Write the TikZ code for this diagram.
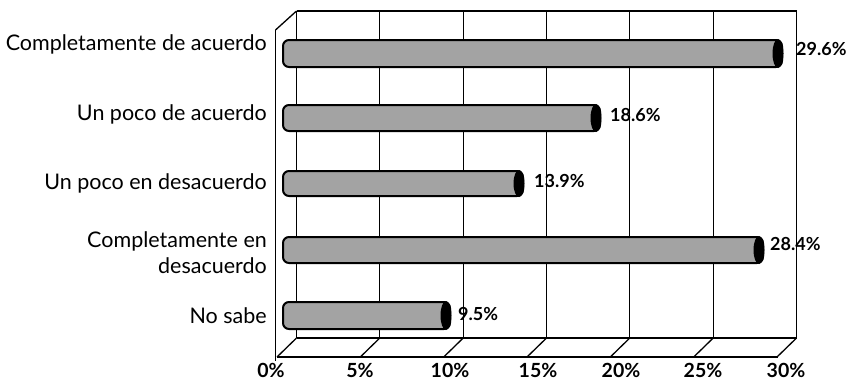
\documentclass[tikz,border=0pt]{standalone}
\usepackage{fontspec}
\setmainfont{Lato}
\begin{document}
\begin{tikzpicture}[x=1pt,y=-1pt,
  frame/.style={line width=1.3pt,black},
  grid/.style={line width=1.1pt,black},
  barbody/.style={draw=black,line width=2pt,fill=gray!72,rounded corners=6pt},
  barcap/.style={fill=black},
  cat/.style={anchor=base east,font=\fontsize{21.5}{24}\selectfont,align=right,inner sep=0pt},
  val/.style={anchor=base west,font=\bfseries\fontsize{18}{20}\selectfont,inner sep=0pt},
  tick/.style={anchor=base,font=\bfseries\fontsize{19.5}{21}\selectfont,inner sep=0pt}]
\useasboundingbox (0,0) rectangle (848,381);
% back wall gridlines
\foreach \x in {296.5,379.8,463.2,546.5,629.8,713.2}{
  \draw[grid] (\x,11) -- (\x,338);
}
\draw[frame] (796.5,11) -- (796.5,338);
\draw[frame] (296.5,11) -- (796.5,11);
% left side wall
\draw[frame] (275.5,30) -- (296.5,11);
\draw[frame] (275.5,30) -- (275.5,361);
% floor
\draw[frame] (296.5,338) -- (796.5,338);
\draw[frame] (277,357) -- (778,357);
\foreach \x in {296.5,379.8,463.2,546.5,629.8,713.2,796.5}{
  \draw[frame] (\x,338) -- ++(-19.5,19);
}
% bars
\foreach \yt/\yb/\xr/\n in {40/67/782/a,105/131/600/b,171/196/523/c,237/263/763/d,302/329/450/e}{
  \path[barbody] (283,\yt) rectangle (\xr,\yb);
  \path[barcap] (\xr-4,{(\yt+\yb)/2}) ellipse [x radius=5.5,y radius={(\yb-\yt)/2+1}];
  \node[inner sep=0pt] (bar\n) at (\xr,{(\yt+\yb)/2}) {};
}
% category labels
\node[cat] (c1) at (267,50) {Completamente de acuerdo};
\node[cat] (c2) at (267,120) {Un poco de acuerdo};
\node[cat] (c3) at (267,189) {Un poco en desacuerdo};
\node[cat] (c4) at (267,247) {Completamente en};
\node[cat] (c4b) at (267,273) {desacuerdo};
\node[cat] (c5) at (267,323) {No sabe};
% value labels
\node[val] (v1) at (796,55) {29.6\%};
\node[val] (v2) at (610,121) {18.6\%};
\node[val] (v3) at (534,187) {13.9\%};
\node[val] (v4) at (770,250) {28.4\%};
\node[val] (v5) at (458,320) {9.5\%};
% axis tick labels
\foreach \x/\t in {271/0,360/5,450/10,538/15,621/20,703/25,786/30}{
  \node[tick] at (\x,377.5) {\t\%};
}
\end{tikzpicture}
\end{document}
